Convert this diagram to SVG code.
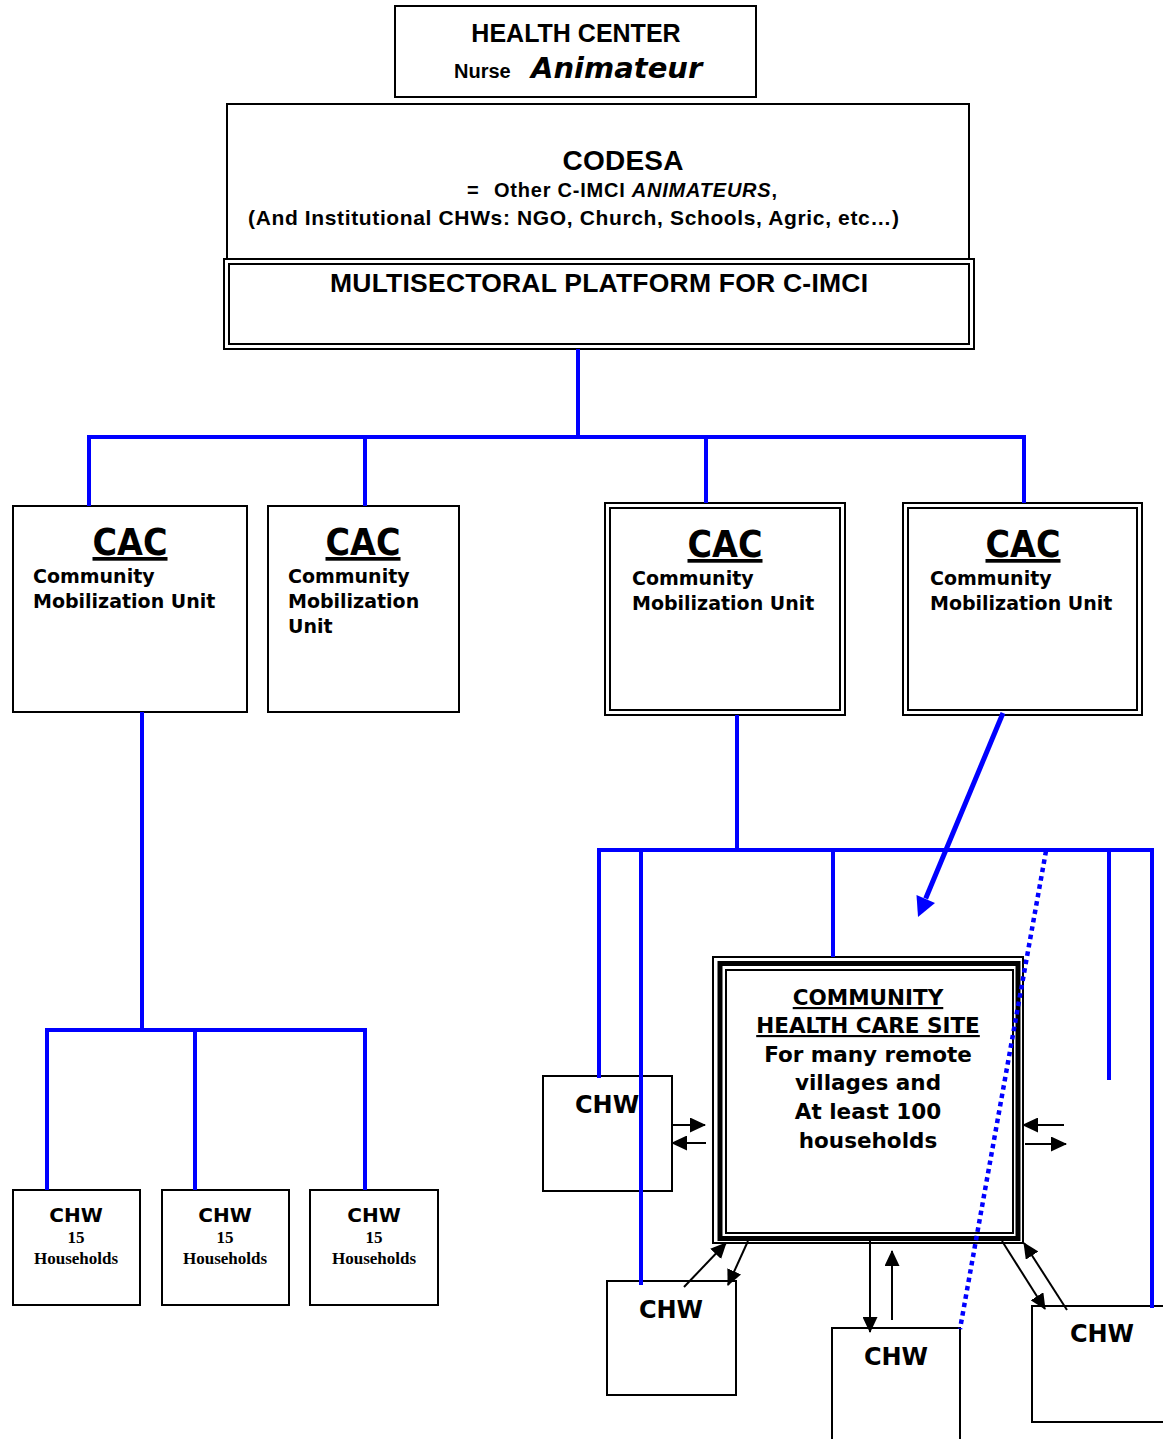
<svg xmlns="http://www.w3.org/2000/svg" width="1163" height="1439" viewBox="0 0 1163 1439">
<style>
.box{fill:#fff;stroke:#000;stroke-width:2}
.thin{fill:none;stroke:#000;stroke-width:2}
.thick{fill:none;stroke:#000;stroke-width:5}
.arial{font-family:"Liberation Sans",Arial,sans-serif;font-weight:bold;fill:#000}
.dv{font-family:"DejaVu Sans",Verdana,sans-serif;font-weight:bold;fill:#000}
.serif{font-family:"Liberation Serif","Times New Roman",serif;font-weight:bold;fill:#000}
.blue{fill:none;stroke:#0000ff;stroke-width:4}
.dot{fill:none;stroke:#0000ff;stroke-width:4.5;stroke-dasharray:4.5 4}
.arr{fill:none;stroke:#000;stroke-width:2;marker-end:url(#ah)}
.u{text-decoration:underline}
</style>
<defs>
<marker id="ah" markerWidth="16" markerHeight="15" refX="15" refY="7.5" orient="auto" markerUnits="userSpaceOnUse">
<path d="M0,0 L16,7.5 L0,15 z" fill="#000"/>
</marker>
</defs>
<rect width="1163" height="1439" fill="#fff"/>

<g id="health-center">
<rect class="box" x="395" y="6" width="361" height="91"/>
<text class="arial" x="576" y="42" font-size="25" text-anchor="middle">HEALTH CENTER</text>
<text class="arial" x="454" y="78" font-size="20">Nurse</text>
<text class="dv" x="531" y="78" font-size="29" font-style="italic">Animateur</text>
</g>

<g id="codesa">
<rect class="box" x="227" y="104" width="742" height="160"/>
<text class="arial" x="623" y="170" font-size="28" text-anchor="middle" textLength="121">CODESA</text>
<text class="arial" x="467" y="197" font-size="20">=</text>
<text class="arial" x="494" y="197" font-size="20" textLength="283">Other C-IMCI <tspan font-style="italic">ANIMATEURS</tspan>,</text>
<text class="arial" x="248" y="225" font-size="21" textLength="651">(And Institutional CHWs: NGO, Church, Schools, Agric, etc…)</text>
</g>

<g id="platform">
<rect class="box" x="224" y="259" width="750" height="90"/>
<rect class="thin" x="229" y="264" width="740" height="80"/>
<text class="arial" x="599" y="292" font-size="26.5" text-anchor="middle" textLength="538">MULTISECTORAL PLATFORM FOR C-IMCI</text>
</g>

<g id="cac1">
<rect class="box" x="13" y="506" width="234" height="206"/>
<text class="dv u" x="130" y="555" font-size="37" text-anchor="middle" textLength="75" lengthAdjust="spacingAndGlyphs">CAC</text>
<text class="dv" x="33" y="583" font-size="19">Community</text>
<text class="dv" x="33" y="608" font-size="19">Mobilization Unit</text>
</g>

<g id="cac2">
<rect class="box" x="268" y="506" width="191" height="206"/>
<text class="dv u" x="363" y="555" font-size="37" text-anchor="middle" textLength="75" lengthAdjust="spacingAndGlyphs">CAC</text>
<text class="dv" x="288" y="583" font-size="19">Community</text>
<text class="dv" x="288" y="608" font-size="19">Mobilization</text>
<text class="dv" x="288" y="633" font-size="19">Unit</text>
</g>

<g id="cac3">
<rect class="box" x="605" y="503" width="240" height="212" stroke-width="2.5"/>
<rect class="thin" x="610" y="508" width="230" height="202" stroke-width="2.5"/>
<text class="dv u" x="725" y="557" font-size="37" text-anchor="middle" textLength="75" lengthAdjust="spacingAndGlyphs">CAC</text>
<text class="dv" x="632" y="585" font-size="19">Community</text>
<text class="dv" x="632" y="610" font-size="19">Mobilization Unit</text>
</g>

<g id="cac4">
<rect class="box" x="903" y="503" width="239" height="212" stroke-width="2.5"/>
<rect class="thin" x="908" y="508" width="229" height="202" stroke-width="2.5"/>
<text class="dv u" x="1023" y="557" font-size="37" text-anchor="middle" textLength="75" lengthAdjust="spacingAndGlyphs">CAC</text>
<text class="dv" x="930" y="585" font-size="19">Community</text>
<text class="dv" x="930" y="610" font-size="19">Mobilization Unit</text>
</g>

<g id="chw-a">
<rect class="box" x="13" y="1190" width="127" height="115"/>
<text class="dv" x="76" y="1222" font-size="20" text-anchor="middle">CHW</text>
<text class="serif" x="76" y="1243" font-size="17" text-anchor="middle">15</text>
<text class="serif" x="76" y="1264" font-size="17" text-anchor="middle">Households</text>
</g>
<g id="chw-b">
<rect class="box" x="162" y="1190" width="127" height="115"/>
<text class="dv" x="225" y="1222" font-size="20" text-anchor="middle">CHW</text>
<text class="serif" x="225" y="1243" font-size="17" text-anchor="middle">15</text>
<text class="serif" x="225" y="1264" font-size="17" text-anchor="middle">Households</text>
</g>
<g id="chw-c">
<rect class="box" x="310" y="1190" width="128" height="115"/>
<text class="dv" x="374" y="1222" font-size="20" text-anchor="middle">CHW</text>
<text class="serif" x="374" y="1243" font-size="17" text-anchor="middle">15</text>
<text class="serif" x="374" y="1264" font-size="17" text-anchor="middle">Households</text>
</g>

<g id="health-care-site">
<rect class="box" x="713" y="957" width="310" height="286"/>
<rect class="thick" x="720" y="963.5" width="298" height="275"/>
<rect class="thin" x="726" y="970" width="287" height="263"/>
<text class="dv u" x="868" y="1005" font-size="21.5" text-anchor="middle">COMMUNITY</text>
<text class="dv u" x="868" y="1033" font-size="21.5" text-anchor="middle">HEALTH CARE SITE</text>
<text class="dv" x="868" y="1062" font-size="21.5" text-anchor="middle">For many remote</text>
<text class="dv" x="868" y="1090" font-size="21.5" text-anchor="middle">villages and</text>
<text class="dv" x="868" y="1119" font-size="21.5" text-anchor="middle">At least 100</text>
<text class="dv" x="868" y="1148" font-size="21.5" text-anchor="middle">households</text>
</g>

<g id="chw-left">
<rect class="box" x="543" y="1076" width="129" height="115"/>
<text class="dv" x="575" y="1113" font-size="24">CHW</text>
</g>
<g id="chw-bottom-left">
<rect class="box" x="607" y="1281" width="129" height="114"/>
<text class="dv" x="671" y="1318" font-size="24" text-anchor="middle">CHW</text>
</g>
<g id="chw-bottom-mid">
<rect class="box" x="832" y="1328" width="128" height="120"/>
<text class="dv" x="896" y="1365" font-size="24" text-anchor="middle">CHW</text>
</g>
<g id="chw-bottom-right">
<rect class="box" x="1032" y="1306" width="140" height="116"/>
<text class="dv" x="1102" y="1342" font-size="24" text-anchor="middle">CHW</text>
</g>

<g id="connectors">
<path class="blue" d="M578,349 V437"/>
<path class="blue" d="M89,506 V437 H1024 V503"/>
<path class="blue" d="M365,437 V506"/>
<path class="blue" d="M706,437 V503"/>
<path class="blue" d="M142,712 V1030"/>
<path class="blue" d="M47,1190 V1030 H365 V1190"/>
<path class="blue" d="M195,1030 V1190"/>
<path class="blue" d="M737,715 V850"/>
<path class="blue" d="M599,1078 V850 H1152 V1308"/>
<path class="blue" d="M641,850 V1285"/>
<path class="blue" d="M833,850 V957"/>
<path class="blue" d="M1109,850 V1080"/>
<path class="dot" d="M1046,851 L960,1329"/>
<path d="M1003,713 L925.7,898.5" fill="none" stroke="#0000ff" stroke-width="5"/>
<path d="M918,917 L935,903 L916.5,895 z" fill="#0000ff"/>
<path class="arr" d="M672,1125 H705"/>
<path class="arr" d="M706,1143 H672"/>
<path class="arr" d="M1064,1125 H1023"/>
<path class="arr" d="M1025,1144 H1066"/>
<path class="arr" d="M1002,1241 L1045,1309"/>
<path class="arr" d="M1067,1310 L1024,1243"/>
<path class="arr" d="M684,1287 L726,1243"/>
<path class="arr" d="M748,1241 L728,1285"/>
<path class="arr" d="M870,1241 V1332"/>
<path class="arr" d="M892,1320 V1251"/>
</g>
</svg>
